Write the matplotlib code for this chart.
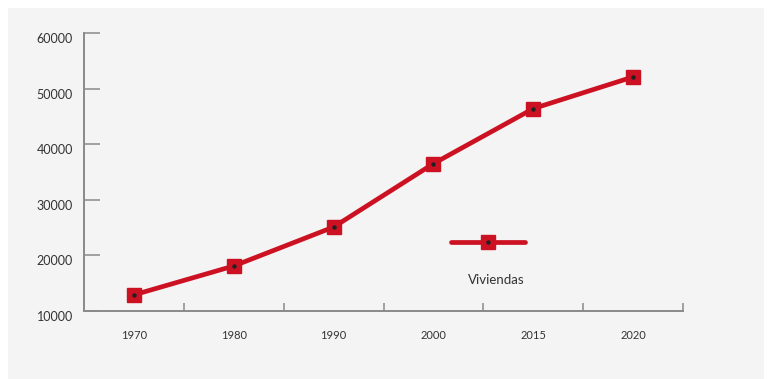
import matplotlib.pyplot as plt
from matplotlib.patches import Rectangle
from matplotlib.legend_handler import HandlerTuple
import numpy as np

years = ['1970', '1980', '1990', '2000', '2015', '2020']
viviendas = [12900, 18100, 25100, 36500, 46400, 52100]
y_ticks = [10000, 20000, 30000, 40000, 50000, 60000]

RED = '#cc1222'
AXIS = '#8a8a8a'
TEXT = '#333333'
plt.rcParams['font.family'] = ['Lato', 'DejaVu Sans']

fig = plt.figure(figsize=(7.72, 3.79), dpi=100, facecolor='white')
# light panel behind the chart
fig.patches.append(Rectangle((8 / 772, 0), 756 / 772, 371 / 379,
                             transform=fig.transFigure, facecolor='#f4f4f4',
                             edgecolor='none', zorder=-1))

ax = fig.add_axes([84 / 772, 1 - 311 / 379, 599 / 772, 278 / 379])
ax.set_facecolor('none')

x = np.arange(len(years))
line, = ax.plot(x, viviendas, color=RED, lw=3.4, marker='s', ms=10.5,
                mec=RED, mfc=RED, solid_capstyle='round',
                solid_joinstyle='round', zorder=3)
dot, = ax.plot(x, viviendas, ls='none', marker='o', ms=2.2, color='#222222',
               zorder=4)

ax.set_xlim(-0.5, len(years) - 0.5)
ax.set_ylim(10000, 60000)

# category labels centred, ticks on the boundaries
ax.set_xticks(x)
ax.set_xticklabels(years, fontsize=8, color=TEXT)
ax.set_xticks(np.arange(len(years)) + 0.5, minor=True)
ax.tick_params(axis='x', which='major', length=0, pad=14)
ax.tick_params(axis='x', which='minor', direction='in', length=6,
               width=1.1, color=AXIS)

ax.set_yticks(y_ticks)
ax.set_yticklabels([str(v) for v in y_ticks], fontsize=9, color=TEXT)
ax.tick_params(axis='y', direction='in', length=11.5, width=1.1,
               color=AXIS, pad=8)
for lbl in ax.get_yticklabels():
    lbl.set_va('top')

for side in ['top', 'right']:
    ax.spines[side].set_visible(False)
for side in ['left', 'bottom']:
    ax.spines[side].set_color(AXIS)
    ax.spines[side].set_linewidth(1.4)

# legend: key on top, name underneath
ax.legend(handles=[(line, dot)], labels=[''],
          handler_map={tuple: HandlerTuple(ndivide=1)},
          loc='center', bbox_to_anchor=(488 / 772, 1 - 243 / 379),
          bbox_transform=fig.transFigure, frameon=False, handlelength=5.3,
          handletextpad=0, borderpad=0, fontsize=10)
fig.text(496 / 772, 1 - 280 / 379, 'Viviendas', ha='center', va='center',
         fontsize=9.5, color=TEXT)

fig.savefig('out.png', dpi=100, facecolor=fig.get_facecolor())
